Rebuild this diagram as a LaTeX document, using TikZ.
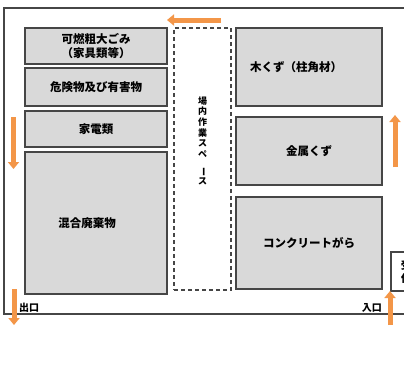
\documentclass[tikz,border=0pt]{standalone}
\usepackage{fontspec}
\setmainfont{Noto Sans CJK JP}
\usetikzlibrary{arrows.meta}
\definecolor{binfill}{RGB}{217,217,217}
\definecolor{binline}{RGB}{70,70,70}
\definecolor{flowor}{RGB}{243,150,72}
\tikzset{
  bin/.style={draw=binline, line width=1.1pt, fill=binfill, inner sep=0pt,
    font=\bfseries\fontsize{11.5}{14}\selectfont, align=center},
  flow/.style={draw=flowor, line width=5pt,
    -{Triangle[width=11pt,length=7pt]}},
  gate/.style={font=\bfseries\fontsize{10}{11}\selectfont, inner sep=0pt}
}
\begin{document}
\begin{tikzpicture}[x=1pt, y=-1pt]
\useasboundingbox[fill=white] (0,0) rectangle (404,384);
\begin{scope}
\clip (0,0) rectangle (404,384);
% site outline
\draw[binline, line width=1.1pt](404,8)--(4,8)--(4,314)--(404,314);
% left row
\node[bin, minimum width=142pt, minimum height=36pt] (kanen) at (96,46) {可燃粗大ごみ\\（家具類等）};
\node[bin, minimum width=142pt, minimum height=38pt] (kiken) at (96,87) {危険物及び有害物};
\node[bin, minimum width=142pt, minimum height=36pt] (kaden) at (96,129) {家電類};
\node[bin, minimum width=142pt, minimum height=142pt] (kongo) at (96,223) {\hspace*{-18pt}混合廃棄物};
% work space
\node[draw=binline, line width=1.1pt, dash pattern=on 4pt off 3pt,
  minimum width=57pt, minimum height=262pt, inner sep=0pt] (space) at (202.5,159) {};
\node[font=\bfseries\fontsize{9}{10.6}\selectfont, align=center, inner sep=0pt] (spacelbl) at (202.5,141)
  {場\\内\\作\\業\\ス\\ペ\\\rotatebox{-90}{ー}\\ス};
% right row
\node[bin, minimum width=146pt, minimum height=78pt] (mokuzu) at (309,67) {\hspace*{-26pt}木くず（柱角材）};
\node[bin, minimum width=146pt, minimum height=68pt] (kinzoku) at (309,151) {金属くず};
\node[bin, minimum width=146pt, minimum height=92pt] (gara) at (309,243) {コンクリートがら};
\node[draw=binline, line width=1.1pt, fill=white, minimum width=30pt, minimum height=39pt,
  inner sep=0pt, align=left, font=\bfseries\fontsize{10.5}{13}\selectfont] (uketsuke) at (406,271.5) {受\\付};
% gates
\node[gate, anchor=south west] (deguchi) at (19,312.5) {出口};
\node[gate, anchor=south east] (iriguchi) at (382,312.5) {入口};
% traffic
\coordinate (t1) at (221,20); \coordinate (t2) at (167,20);
\draw[flow] (t1) -- (t2);
\coordinate (l1) at (13.5,117); \coordinate (l2) at (13.5,169);
\draw[flow] (l1) -- (l2);
\coordinate (r1) at (395,167); \coordinate (r2) at (395,115);
\draw[flow] (r1) -- (r2);
\coordinate (o1) at (14,289); \coordinate (o2) at (14,325);
\draw[flow] (o1) -- (o2);
\coordinate (i1) at (390,325); \coordinate (i2) at (390,291);
\draw[flow] (i1) -- (i2);
\end{scope}
\end{tikzpicture}
\end{document}
